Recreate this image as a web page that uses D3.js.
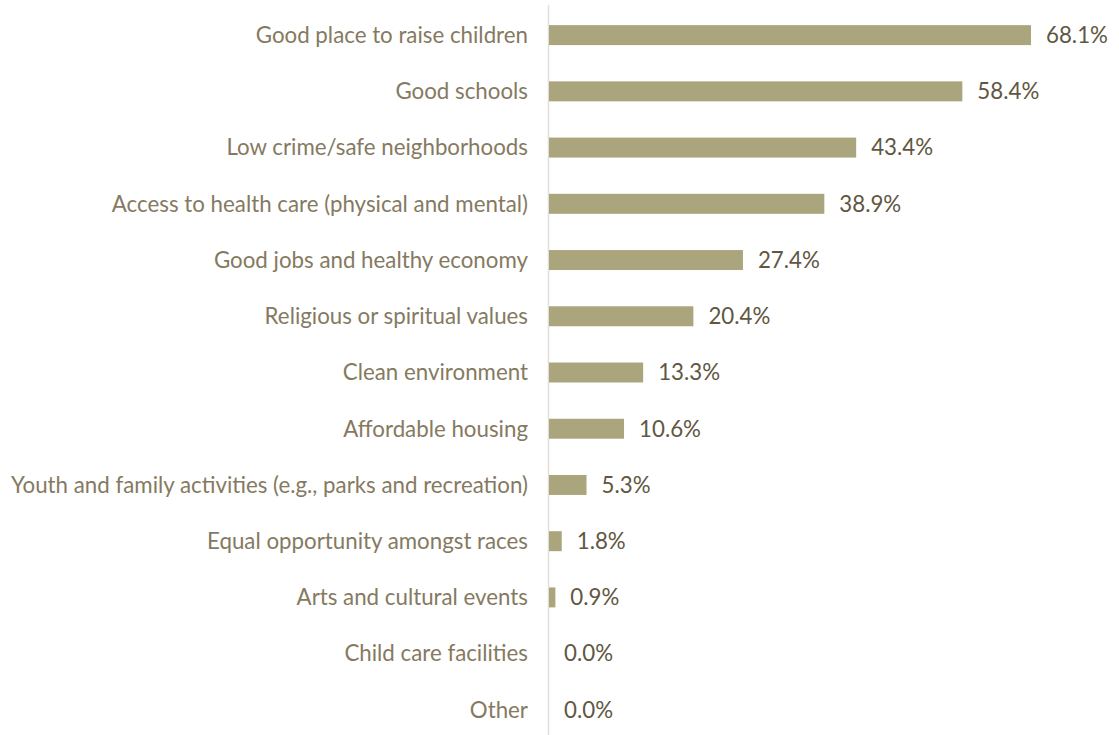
<!DOCTYPE html>
<html>
<head>
<meta charset="utf-8">
<script src="https://cdn.jsdelivr.net/npm/d3@7"></script>
<style>
  html, body { margin: 0; padding: 0; background: #fff; }
  svg { display: block; }
  text { font-family: "Century Gothic", Futura, Lato, "Noto Sans", sans-serif; }
</style>
</head>
<body>
<svg id="chart" width="1119" height="735"></svg>
<script>
// Reasons respondents gave for choosing their community (% of respondents)
const categories = [
  "Good place to raise children",
  "Good schools",
  "Low crime/safe neighborhoods",
  "Access to health care (physical and mental)",
  "Good jobs and healthy economy",
  "Religious or spiritual values",
  "Clean environment",
  "Affordable housing",
  "Youth and family activities (e.g., parks and recreation)",
  "Equal opportunity amongst races",
  "Arts and cultural events",
  "Child care facilities",
  "Other"
];
const values = [68.1, 58.4, 43.4, 38.9, 27.4, 20.4, 13.3, 10.6, 5.3, 1.8, 0.9, 0.0, 0.0];

const svg = d3.select("#chart");
const x0 = 549;

const x = d3.scaleLinear().domain([0, 68.1]).range([x0, 1031]);
const y = d3.scaleBand().domain(categories).range([7, 738]).paddingInner(0.645).paddingOuter(0.3225);

// axis line on the left of the bars
svg.append("line")
  .attr("x1", x0 - 0.5).attr("x2", x0 - 0.5)
  .attr("y1", 5).attr("y2", 735)
  .attr("stroke", "#e3ded6").attr("stroke-width", 1.5);

svg.append("g").selectAll("rect")
  .data(values)
  .join("rect")
  .attr("x", x0)
  .attr("y", (d, i) => y(categories[i]))
  .attr("width", d => x(d) - x0)
  .attr("height", y.bandwidth())
  .attr("fill", "#aaa57c");

// category labels, sized so the longest one fits the left margin
const labels = svg.append("g").selectAll("text")
  .data(categories)
  .join("text")
  .attr("x", 528)
  .attr("y", d => y(d) + y.bandwidth() / 2)
  .attr("dy", "0.35em")
  .attr("text-anchor", "end")
  .attr("fill", "#857a61")
  .style("font-size", "19px")
  .text(d => d);

const longest = labels.nodes()[8].getComputedTextLength();
const fs = 19 * 517 / longest;
labels.style("font-size", fs + "px");

svg.append("g").selectAll("text")
  .data(values)
  .join("text")
  .attr("x", d => x(d) + 15)
  .attr("y", (d, i) => y(categories[i]) + y.bandwidth() / 2)
  .attr("dy", "0.35em")
  .attr("fill", "#5f5742")
  .style("font-size", fs + "px")
  .text(d => d.toFixed(1) + "%");
</script>
</body>
</html>
